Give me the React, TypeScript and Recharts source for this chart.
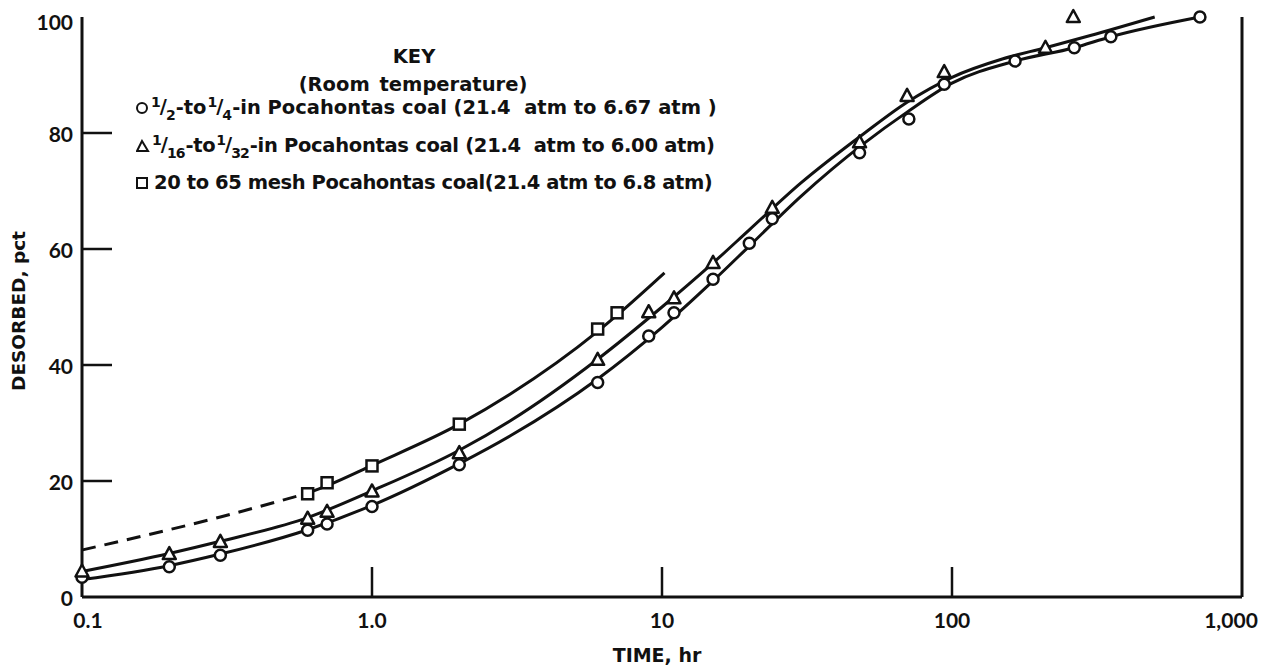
import {
  ComposedChart, Line, Scatter, XAxis, YAxis,
} from 'recharts'

// ── Desorption vs time, three Pocahontas coal sizes ─────────────
// measured points (TIME hr, DESORBED pct)
const circleX = [0.1, 0.2, 0.3, 0.6, 0.7, 1, 2, 6, 9, 11, 15, 20, 24, 48, 71, 94, 165, 264, 353, 716]
const circleY = [3.4, 5.2, 7.2, 11.5, 12.6, 15.6, 22.8, 37, 45, 49, 54.8, 61, 65.2, 76.6, 82.4, 88.4, 92.4, 94.7, 96.6, 100]

const triX = [0.1, 0.2, 0.3, 0.6, 0.7, 1, 2, 6, 9, 11, 15, 24, 48, 70, 94, 210, 262]
const triY = [4.4, 7.4, 9.5, 13.5, 14.7, 18.2, 24.8, 40.9, 49.1, 51.5, 57.6, 67.1, 78.4, 86.4, 90.5, 94.7, 100]

const sqX = [0.6, 0.7, 1, 2, 6, 7]
const sqY = [17.8, 19.7, 22.6, 29.8, 46.2, 49]

// fitted curves
const circleCurveX = [0.1, 0.2, 0.3, 0.6, 1, 2, 3, 6, 10, 15, 20, 30, 50, 70, 100, 165, 264, 353, 716]
const circleCurveY = [3, 5.4, 7.4, 11.6, 15.8, 23, 27.8, 37.6, 46.5, 54.5, 60.5, 69, 78.3, 83.6, 88.6, 92.4, 94.7, 96.6, 100]

const triCurveX = [0.1, 0.2, 0.3, 0.6, 1, 2, 3, 6, 10, 15, 20, 30, 50, 70, 100, 150, 210, 300, 500]
const triCurveY = [4.4, 7.5, 9.6, 13.7, 18.3, 25.3, 30.4, 41, 50, 57.6, 63.3, 71.3, 80, 85.3, 89.6, 92.8, 94.7, 96.8, 100]

const sqCurveX = [0.6, 0.7, 1, 2, 3, 6, 7, 10.2]
const sqCurveY = [17.9, 19.2, 22.7, 29.8, 35, 45.8, 48.6, 55.9]

const sqDashX = [0.1, 0.3, 0.6]
const sqDashY = [8.1, 13.8, 17.9]

const xTicks = [0.1, 1, 10, 100, 1000]
const xTickLabels = ['0.1', '1.0', '10', '100', '1,000']
const yTicks = [0, 20, 40, 60, 80, 100]

const pairs = (xs: number[], ys: number[]) => xs.map((x, i) => ({ x, y: ys[i] }))

const circlePts = pairs(circleX, circleY)
const triPts = pairs(triX, triY)
const sqPts = pairs(sqX, sqY)
const circleCurve = pairs(circleCurveX, circleCurveY)
const triCurve = pairs(triCurveX, triCurveY)
const sqCurve = pairs(sqCurveX, sqCurveY)
const sqDash = pairs(sqDashX, sqDashY)

const FONT = 'Lato, "DejaVu Sans", sans-serif'
const KEY_FONT = '"DejaVu Sans", sans-serif'
const INK = '#111'
const TICK_LEN = 30

const CircleMark = (p: any) => <circle cx={p.cx} cy={p.cy} r={5.5} fill="#fff" stroke={INK} strokeWidth={2.5} />
const TriMark = (p: any) => (
  <polygon points={`${p.cx},${p.cy - 7} ${p.cx - 6.5},${p.cy + 5} ${p.cx + 6.5},${p.cy + 5}`} fill="#fff" stroke={INK} strokeWidth={2.5} strokeLinejoin="round" />
)
const SqMark = (p: any) => <rect x={p.cx - 5.5} y={p.cy - 5.5} width={11} height={11} fill="#fff" stroke={INK} strokeWidth={2.5} />

// bottom axis: label + inward tick
const BottomTick = (p: any) => {
  const v = p.payload.value
  const i = xTicks.indexOf(v)
  const inner = i > 0 && i < xTicks.length - 1
  const dx = i === 0 ? 6 : i === xTicks.length - 1 ? -11 : 0
  return (
    <g>
      {inner && <line x1={p.x} x2={p.x} y1={p.y} y2={p.y - TICK_LEN} stroke={INK} strokeWidth={2.5} />}
      <text x={p.x + dx} y={p.y + 22} textAnchor="middle" dominantBaseline="central" fontFamily={FONT} fontWeight={700} fontSize={21} fill={INK}>
        {xTickLabels[i]}
      </text>
    </g>
  )
}

const TopTick = (p: any) => {
  const v = p.payload.value
  const i = xTicks.indexOf(v)
  if (i <= 0 || i >= xTicks.length - 1) return <g />
  return <line x1={p.x} x2={p.x} y1={p.y} y2={p.y + TICK_LEN} stroke={INK} strokeWidth={2.5} />
}

const LeftTick = (p: any) => {
  const v = p.payload.value
  const inner = v > 0 && v < 100
  return (
    <g>
      {inner && <line x1={p.x} x2={p.x + TICK_LEN} y1={p.y} y2={p.y} stroke={INK} strokeWidth={2.5} />}
      <text x={p.x - 9} y={p.y + (v === 100 ? 4 : 0)} textAnchor="end" dominantBaseline="central" fontFamily={FONT} fontWeight={700} fontSize={21} fill={INK}>
        {v}
      </text>
    </g>
  )
}

const RightTick = (p: any) => {
  const v = p.payload.value
  if (v <= 0 || v >= 100) return <g />
  return <line x1={p.x} x2={p.x - TICK_LEN} y1={p.y} y2={p.y} stroke={INK} strokeWidth={2.5} />
}

const Frac = ({ n, d }: { n: string; d: string }) => (
  <span style={{ letterSpacing: '-1px', margin: '0 1px' }}>
    <span style={{ fontSize: '0.72em', verticalAlign: '0.45em' }}>{n}</span>
    <span>/</span>
    <span style={{ fontSize: '0.72em', verticalAlign: '-0.45em' }}>{d}</span>
  </span>
)

const legendRow = { position: 'absolute' as const, left: 136, height: 26, lineHeight: '26px', whiteSpace: 'nowrap' as const, display: 'flex', alignItems: 'center' }

export default function App() {
  const axisLine = { stroke: INK, strokeWidth: 3 }
  return (
    <div style={{ position: 'absolute', left: 0, top: 0, width: 1265, height: 666, background: '#fff' }}>
      <ComposedChart width={1265} height={666} margin={{ top: 17, right: 22, bottom: 0, left: 0 }}>
        <XAxis xAxisId="b" dataKey="x" type="number" scale="log" domain={[0.1, 1000]}
          ticks={xTicks} tick={<BottomTick />} tickLine={false} tickSize={0} tickMargin={0} axisLine={axisLine} height={69}
          label={{
            content: () => (
              <text x={657} y={655} textAnchor="middle" dominantBaseline="central" fontFamily={KEY_FONT} fontWeight={700} fontSize={19} fill={INK}>TIME, hr</text>
            ),
          }} />
        <XAxis xAxisId="t" orientation="top" dataKey="x" type="number" scale="log" domain={[0.1, 1000]}
          ticks={xTicks} tick={<TopTick />} tickLine={false} tickSize={0} tickMargin={0} axisLine={axisLine} height={0} />
        <YAxis yAxisId="l" dataKey="y" type="number" domain={[0, 100]} ticks={yTicks}
          tick={<LeftTick />} tickLine={false} tickSize={0} tickMargin={0} axisLine={axisLine} width={82}
          label={{
            content: () => (
              <text x={18} y={311} transform="rotate(-90, 18, 311)" textAnchor="middle" dominantBaseline="central"
                fontFamily={KEY_FONT} fontWeight={700} fontSize={18.5} fill={INK}>DESORBED, pct</text>
            ),
          }} />
        <YAxis yAxisId="r" orientation="right" dataKey="y" type="number" domain={[0, 100]} ticks={yTicks}
          tick={<RightTick />} tickLine={false} tickSize={0} tickMargin={0} axisLine={axisLine} width={1} />

        <Line xAxisId="b" yAxisId="l" data={circleCurve} dataKey="y" type="monotone" stroke={INK} strokeWidth={3} dot={false} isAnimationActive={false} />
        <Line xAxisId="b" yAxisId="l" data={triCurve} dataKey="y" type="monotone" stroke={INK} strokeWidth={3} dot={false} isAnimationActive={false} />
        <Line xAxisId="b" yAxisId="l" data={sqCurve} dataKey="y" type="monotone" stroke={INK} strokeWidth={3} dot={false} isAnimationActive={false} />
        <Line xAxisId="b" yAxisId="l" data={sqDash} dataKey="y" type="monotone" stroke={INK} strokeWidth={3} strokeDasharray="14 9" dot={false} isAnimationActive={false} />

        <Scatter xAxisId="b" yAxisId="l" data={circlePts} shape={CircleMark} isAnimationActive={false} />
        <Scatter xAxisId="b" yAxisId="l" data={triPts} shape={TriMark} isAnimationActive={false} />
        <Scatter xAxisId="b" yAxisId="l" data={sqPts} shape={SqMark} isAnimationActive={false} />
      </ComposedChart>

      {/* key */}
      <div style={{ position: 'absolute', left: 0, top: 0, fontFamily: KEY_FONT, fontWeight: 700, fontSize: 19.5, color: INK }}>
        <div style={{ position: 'absolute', left: 314, top: 44, width: 200, textAlign: 'center', lineHeight: '26px' }}>KEY</div>
        <div style={{ position: 'absolute', left: 263, top: 72, width: 300, textAlign: 'center', lineHeight: '26px', wordSpacing: '3px' }}>(Room temperature)</div>
        <div style={{ ...legendRow, top: 95 }}>
          <svg width={14} height={14}><circle cx={6} cy={7} r={5} fill="none" stroke={INK} strokeWidth={2} /></svg>
          <Frac n="1" d="2" />-to<Frac n="1" d="4" />-in Pocahontas coal (21.4&nbsp; atm to 6.67 atm )
        </div>
        <div style={{ ...legendRow, top: 133, letterSpacing: '-0.3px' }}>
          <svg width={15} height={14}><polygon points="6,2 1,12 12,12" fill="none" stroke={INK} strokeWidth={2} /></svg>
          <Frac n="1" d="16" />-to<Frac n="1" d="32" />-in Pocahontas coal (21.4&nbsp; atm to 6.00 atm)
        </div>
        <div style={{ ...legendRow, top: 170, letterSpacing: '-0.4px' }}>
          <svg width={18} height={14}><rect x={1} y={2} width={10} height={10} fill="none" stroke={INK} strokeWidth={2} /></svg>
          20 to 65 mesh Pocahontas coal(21.4 atm to 6.8 atm)
        </div>
      </div>
    </div>
  )
}
